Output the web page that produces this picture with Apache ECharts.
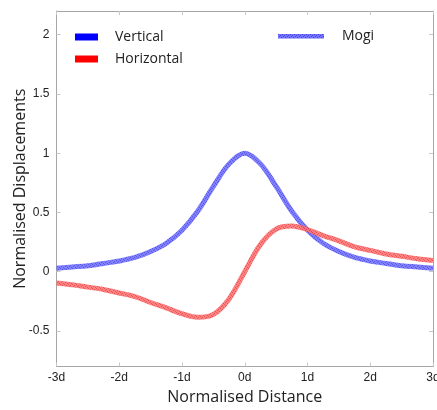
<!DOCTYPE html>
<html>
<head>
<meta charset="utf-8">
<script src="https://cdn.jsdelivr.net/npm/echarts@6/dist/echarts.min.js"></script>
<style>
  html, body { margin: 0; padding: 0; background: #fff; }
  #chart { width: 437px; height: 410px; }
</style>
</head>
<body>
<div id="chart"></div>
<script>
// Normalised distance from the source (in units of source depth d)
const distance = [-3, -2.75, -2.5, -2.25, -2, -1.75, -1.5, -1.25, -1, -0.75, -0.5, -0.25,
                  0, 0.25, 0.5, 0.75, 1, 1.25, 1.5, 1.75, 2, 2.25, 2.5, 2.75, 3];
// Normalised vertical surface displacement
const vertical = [0.03, 0.04, 0.05, 0.07, 0.09, 0.12, 0.17, 0.24, 0.35, 0.51, 0.72, 0.91,
                  1.00, 0.91, 0.72, 0.51, 0.35, 0.24, 0.17, 0.12, 0.09, 0.07, 0.05, 0.04, 0.03];
// Normalised horizontal (radial) surface displacement
const horizontal = [-0.095, -0.11, -0.13, -0.15, -0.18, -0.21, -0.26, -0.305, -0.355, -0.385, -0.36, -0.23,
                    0, 0.23, 0.36, 0.385, 0.355, 0.305, 0.26, 0.21, 0.18, 0.15, 0.13, 0.11, 0.095];
const xTicks = [-3, -2, -1, 0, 1, 2, 3];
const yTicks = [-0.5, 0, 0.5, 1, 1.5, 2];
const legendNames = ['Vertical', 'Horizontal', 'Mogi'];

// speckled stroke texture for the curves
function speckle(base, dark) {
  const c = document.createElement('canvas');
  c.width = 4; c.height = 4;
  const g = c.getContext('2d');
  g.fillStyle = base;
  g.fillRect(0, 0, 4, 4);
  g.fillStyle = dark;
  g.fillRect(0, 0, 1, 1);
  g.fillRect(2, 1, 1, 1);
  g.fillRect(1, 2, 1, 1);
  g.fillRect(3, 3, 1, 1);
  return { image: c, repeat: 'repeat' };
}
const bluePat = speckle('rgb(115,115,255)', 'rgb(70,70,225)');
const redPat = speckle('rgb(255,115,115)', 'rgb(228,70,70)');

const axisGray = '#a6a6a6';
const tickGray = '#c8c8c8';
const txtFont = 'Open Sans';

const boxLine = { show: true, onZero: false, lineStyle: { color: axisGray, width: 1 } };
const boxTick = { show: true, inside: true, length: 4, lineStyle: { color: tickGray } };

// legend key: swatch + caption
function key(x, y, w, h, fill, label, textX, textY) {
  return [
    { type: 'rect', left: x, top: y, shape: { width: w, height: h }, style: { fill: fill } },
    { type: 'text', left: textX, top: textY - 10,
      style: { text: label, fontFamily: txtFont, fontSize: 14, fill: '#222', lineHeight: 20 } }
  ];
}

const chart = echarts.init(document.getElementById('chart'), null, { renderer: 'canvas' });
chart.setOption({
  backgroundColor: '#fff',
  animation: false,
  grid: { left: 56.5, right: 4, top: 11, bottom: 43.5, outerBoundsMode: 'none', containLabel: false },
  graphic: [].concat(
    key(75, 33.5, 23, 7, '#0000ff', legendNames[0], 115, 37),
    key(75, 55.5, 23, 7, '#ff0000', legendNames[1], 115, 59),
    key(278, 34, 46, 4.5, bluePat, legendNames[2], 342, 36.5)
  ),
  xAxis: [
    {
      type: 'value', min: -3, max: 3, interval: 1,
      axisLine: boxLine, axisTick: boxTick,
      axisLabel: { fontFamily: 'Liberation Sans', fontSize: 12, color: '#222', margin: 5,
                   formatter: v => v + 'd' },
      splitLine: { show: false },
      name: 'Normalised Distance', nameLocation: 'middle', nameGap: 23, nameMoveOverlap: false,
      nameTextStyle: { fontFamily: txtFont, fontSize: 16, color: '#222' }
    },
    {
      type: 'value', min: -3, max: 3, interval: 1, position: 'top',
      axisLine: boxLine, axisTick: boxTick,
      axisLabel: { show: false },
      splitLine: { show: false }
    }
  ],
  yAxis: [
    {
      type: 'value', min: -0.8, max: 2.2,
      axisLine: boxLine,
      axisTick: Object.assign({ customValues: yTicks }, boxTick),
      axisLabel: { fontFamily: 'Liberation Sans', fontSize: 12, color: '#222', margin: 7,
                   customValues: yTicks },
      splitLine: { show: false },
      name: 'Normalised Displacements', nameLocation: 'middle', nameGap: 28, nameMoveOverlap: false,
      nameTextStyle: { fontFamily: txtFont, fontSize: 16, color: '#222' }
    },
    {
      type: 'value', min: -0.8, max: 2.2, position: 'right',
      axisLine: boxLine,
      axisTick: Object.assign({ customValues: yTicks }, boxTick),
      axisLabel: { show: false },
      splitLine: { show: false }
    }
  ],
  series: [
    {
      name: legendNames[0], type: 'line', smooth: 0.35, showSymbol: false,
      lineStyle: { color: bluePat, width: 5, opacity: 0.9 },
      data: distance.map((x, i) => [x, vertical[i]])
    },
    {
      name: legendNames[1], type: 'line', smooth: 0.35, showSymbol: false,
      lineStyle: { color: redPat, width: 5, opacity: 0.9 },
      data: distance.map((x, i) => [x, horizontal[i]])
    }
  ]
});
</script>
</body>
</html>
